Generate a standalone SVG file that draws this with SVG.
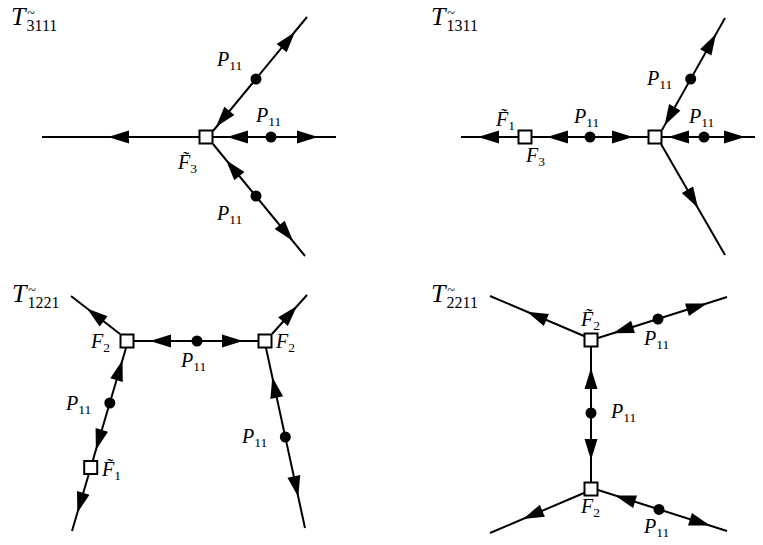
<svg xmlns="http://www.w3.org/2000/svg" xmlns:xlink="http://www.w3.org/1999/xlink" width="763" height="545" viewBox="0 0 763 545">
<style>
.ln{stroke:#000;stroke-width:2;fill:none}
.ah{fill:#000}
.sq{fill:#fff;stroke:#000;stroke-width:2}
.dt{fill:#000}
.m{font-family:"Liberation Serif",serif;font-style:italic;font-size:20px;fill:#000}
.s{font-family:"Liberation Serif",serif;font-style:normal;font-size:13.5px;fill:#000}
.tl{font-family:"Liberation Serif",serif;font-style:italic;font-size:26px;fill:#000}
.ts{font-family:"Liberation Serif",serif;font-style:normal;font-size:16px;fill:#000}
.tt{font-family:"Liberation Serif",serif;font-style:normal;font-size:14px;text-anchor:middle;fill:#000}
</style>
<defs>
<path id="ah" d="M0,0 L-21,-6.5 L-21,6.5 Z"/>
</defs>
<rect width="763" height="545" fill="#fff"/>

<g id="titles">
<text class="tl" x="11" y="25">T<tspan class="ts" dx="1" dy="6">3111</tspan><tspan class="tt" x="31" y="18">~</tspan></text>
<text class="tl" x="431" y="25">T<tspan class="ts" dx="1" dy="6">1311</tspan><tspan class="tt" x="451" y="18">~</tspan></text>
<text class="tl" x="12" y="302">T<tspan class="ts" dx="1" dy="6">1221</tspan><tspan class="tt" x="32" y="295">~</tspan></text>
<text class="tl" x="431" y="302">T<tspan class="ts" dx="1" dy="6">2211</tspan><tspan class="tt" x="451" y="295">~</tspan></text>
</g>

<g id="connectors">
<!-- top-left -->
<path class="ln" d="M42,137 H199"/>
<path class="ln" d="M213,137 H336"/>
<path class="ln" d="M213,131 L307,17"/>
<path class="ln" d="M213,144 L305,256"/>
<use href="#ah" class="ah" transform="translate(108,137) rotate(180)"/>
<use href="#ah" class="ah" transform="translate(227,137) rotate(180)"/>
<use href="#ah" class="ah" transform="translate(318,137)"/>
<use href="#ah" class="ah" transform="translate(216,127) rotate(129.5)"/>
<use href="#ah" class="ah" transform="translate(295,32) rotate(-50.5)"/>
<use href="#ah" class="ah" transform="translate(226,160) rotate(-129.4)"/>
<use href="#ah" class="ah" transform="translate(293,241) rotate(50.6)"/>
<!-- top-right -->
<path class="ln" d="M461,137 H518"/>
<path class="ln" d="M532,137 H648"/>
<path class="ln" d="M662,137 H755"/>
<path class="ln" d="M662,130 L725,18"/>
<path class="ln" d="M661,144 L725,255"/>
<use href="#ah" class="ah" transform="translate(478,137) rotate(180)"/>
<use href="#ah" class="ah" transform="translate(547,137) rotate(180)"/>
<use href="#ah" class="ah" transform="translate(633,137)"/>
<use href="#ah" class="ah" transform="translate(668,137) rotate(180)"/>
<use href="#ah" class="ah" transform="translate(745,137)"/>
<use href="#ah" class="ah" transform="translate(664.5,125.6) rotate(119.3)"/>
<use href="#ah" class="ah" transform="translate(716,34) rotate(-60.7)"/>
<use href="#ah" class="ah" transform="translate(698,208) rotate(60)"/>
<!-- bottom-left -->
<path class="ln" d="M134,341 H258"/>
<path class="ln" d="M120,334 L71,296"/>
<path class="ln" d="M272,334 L307,295"/>
<path class="ln" d="M126,348 L72,531"/>
<path class="ln" d="M266,348 L305,528"/>
<use href="#ah" class="ah" transform="translate(150,341) rotate(180)"/>
<use href="#ah" class="ah" transform="translate(243,341)"/>
<use href="#ah" class="ah" transform="translate(87,308.4) rotate(-142.2)"/>
<use href="#ah" class="ah" transform="translate(297,306) rotate(-48.1)"/>
<use href="#ah" class="ah" transform="translate(122.5,360) rotate(-73.6)"/>
<use href="#ah" class="ah" transform="translate(95.9,450) rotate(106.4)"/>
<use href="#ah" class="ah" transform="translate(77.3,513) rotate(106.4)"/>
<use href="#ah" class="ah" transform="translate(272.3,377) rotate(-102.2)"/>
<use href="#ah" class="ah" transform="translate(298.3,497) rotate(77.8)"/>
<!-- bottom-right -->
<path class="ln" d="M584,336 L490,296"/>
<path class="ln" d="M598,338 L727,297"/>
<path class="ln" d="M591,347 V482"/>
<path class="ln" d="M584,493 L490,533"/>
<path class="ln" d="M598,490 L727,531"/>
<use href="#ah" class="ah" transform="translate(527,311.7) rotate(-157)"/>
<use href="#ah" class="ah" transform="translate(613,333.2) rotate(162.4)"/>
<use href="#ah" class="ah" transform="translate(707,303.4) rotate(-17.6)"/>
<use href="#ah" class="ah" transform="translate(591,368) rotate(-90)"/>
<use href="#ah" class="ah" transform="translate(591,460) rotate(90)"/>
<use href="#ah" class="ah" transform="translate(523,519) rotate(157)"/>
<use href="#ah" class="ah" transform="translate(615,495.4) rotate(-162.4)"/>
<use href="#ah" class="ah" transform="translate(710,525.6) rotate(17.6)"/>
</g>

<!-- top-left nodes -->
<g id="tl-F3">
<rect class="sq" x="199.5" y="130.5" width="13" height="13"/>
<text class="m" x="178" y="169">F̃<tspan class="s" dy="4">3</tspan></text>
</g>
<g id="tl-P-up">
<circle class="dt" cx="256" cy="79" r="5.5"/>
<text class="m" x="217" y="66">P<tspan class="s" dy="4">11</tspan></text>
</g>
<g id="tl-P-mid">
<circle class="dt" cx="271" cy="137" r="5.5"/>
<text class="m" x="256" y="122">P<tspan class="s" dy="4">11</tspan></text>
</g>
<g id="tl-P-low">
<circle class="dt" cx="256" cy="196" r="5.5"/>
<text class="m" x="217" y="220">P<tspan class="s" dy="4">11</tspan></text>
</g>

<!-- top-right nodes -->
<g id="tr-F1">
<rect class="sq" x="518.5" y="130.5" width="13" height="13"/>
<text class="m" x="496" y="126">F̃<tspan class="s" dy="4">1</tspan></text>
</g>
<g id="tr-F3">
<rect class="sq" x="648.5" y="130.5" width="13" height="13"/>
<text class="m" x="526" y="162">F<tspan class="s" dy="4">3</tspan></text>
</g>
<g id="tr-P-mid">
<circle class="dt" cx="590" cy="137" r="5.5"/>
<text class="m" x="574" y="123">P<tspan class="s" dy="4">11</tspan></text>
</g>
<g id="tr-P-right">
<circle class="dt" cx="704" cy="137" r="5.5"/>
<text class="m" x="689" y="123">P<tspan class="s" dy="4">11</tspan></text>
</g>
<g id="tr-P-up">
<circle class="dt" cx="690.7" cy="79" r="5.5"/>
<text class="m" x="647" y="85">P<tspan class="s" dy="4">11</tspan></text>
</g>

<!-- bottom-left nodes -->
<g id="bl-F2-left">
<rect class="sq" x="120.5" y="334.5" width="13" height="13"/>
<text class="m" x="91" y="348">F<tspan class="s" dy="4">2</tspan></text>
</g>
<g id="bl-F2-right">
<rect class="sq" x="258.5" y="334.5" width="13" height="13"/>
<text class="m" x="276" y="348">F<tspan class="s" dy="4">2</tspan></text>
</g>
<g id="bl-P-mid">
<circle class="dt" cx="197" cy="341" r="5.5"/>
<text class="m" x="181" y="367">P<tspan class="s" dy="4">11</tspan></text>
</g>
<g id="bl-P-left">
<circle class="dt" cx="109.8" cy="403" r="5.5"/>
<text class="m" x="66" y="410">P<tspan class="s" dy="4">11</tspan></text>
</g>
<g id="bl-F1">
<rect class="sq" x="84.2" y="461" width="13" height="13"/>
<text class="m" x="102" y="476">F̃<tspan class="s" dy="4">1</tspan></text>
</g>
<g id="bl-P-right">
<circle class="dt" cx="285.3" cy="437" r="5.5"/>
<text class="m" x="242" y="443">P<tspan class="s" dy="4">11</tspan></text>
</g>

<!-- bottom-right nodes -->
<g id="br-F2-top">
<rect class="sq" x="584.5" y="333.5" width="13" height="13"/>
<text class="m" x="581" y="326">F̃<tspan class="s" dy="4">2</tspan></text>
</g>
<g id="br-F2-bot">
<rect class="sq" x="584.5" y="482.5" width="13" height="13"/>
<text class="m" x="581" y="513">F<tspan class="s" dy="4">2</tspan></text>
</g>
<g id="br-P-upright">
<circle class="dt" cx="658" cy="319" r="5.5"/>
<text class="m" x="644" y="345">P<tspan class="s" dy="4">11</tspan></text>
</g>
<g id="br-P-mid">
<circle class="dt" cx="591" cy="413" r="5.5"/>
<text class="m" x="611" y="418">P<tspan class="s" dy="4">11</tspan></text>
</g>
<g id="br-P-lowright">
<circle class="dt" cx="659" cy="509.4" r="5.5"/>
<text class="m" x="644" y="533">P<tspan class="s" dy="4">11</tspan></text>
</g>
</svg>
